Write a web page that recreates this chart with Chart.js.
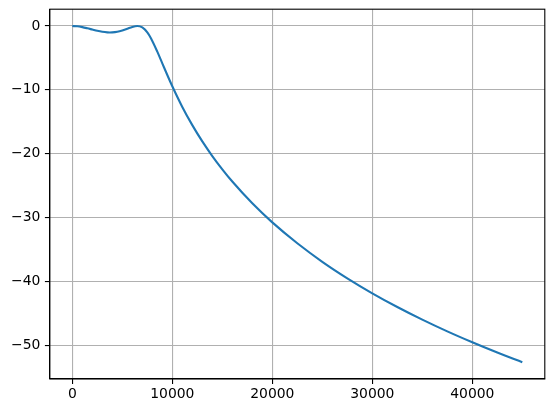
<!DOCTYPE html>
<html lang="en">
<head>
    <meta charset="UTF-8">
    <title>Response</title>
    <script src="https://cdn.jsdelivr.net/npm/chart.js@4/dist/chart.umd.min.js"></script>
    <style>
      body { margin: 0; background: #fff; }
    </style>
</head>
<body>
    <canvas id="response-chart" width="554" height="413"></canvas>
    <script>
      // frequency (x) and gain in dB (y)
      const freqs = [0, 500, 1000, 1500, 2000, 2500, 3000, 3500, 3750, 4000, 4500, 5000, 5500, 6000, 6500,
                     7000, 7500, 8000, 8500, 9000, 9500, 10000, 11000, 12000, 13000, 14000, 15000, 16000,
                     18000, 20000, 22500, 25000, 27500, 30000, 32500, 35000, 37500, 40000, 42500, 45000];
      const gains = [0, -0.04, -0.17, -0.35, -0.55, -0.75, -0.9, -0.99, -1.0, -0.99, -0.89, -0.69, -0.42, -0.14, 0,
                     -0.22, -1.0, -2.33, -4.01, -5.84, -7.67, -9.43, -12.67, -15.53, -18.08, -20.37, -22.45, -24.37,
                     -27.78, -30.77, -34.04, -36.94, -39.53, -41.88, -44.03, -46.01, -47.85, -49.56, -51.17, -52.68];
      const xTicks = [0, 10000, 20000, 30000, 40000];
      const yTicks = [0, -10, -20, -30, -40, -50];

      const points = freqs.map((f, i) => ({ x: f, y: gains[i] }));
      const font = { family: 'DejaVu Sans', size: 13.9 };

      // top and right spines, like the other two
      const frame = {
        id: 'frame',
        afterDraw(chart) {
          const a = chart.chartArea, c = chart.ctx;
          c.save();
          c.strokeStyle = '#000';
          c.lineWidth = 1.1;
          c.strokeRect(a.left, a.top, a.right - a.left, a.bottom - a.top);
          c.restore();
        }
      };

      const gridOpts = { color: '#b0b0b0', lineWidth: 1.1, tickLength: 4.9, tickColor: '#000', tickWidth: 1.1 };

      new Chart(document.getElementById('response-chart'), {
        type: 'line',
        data: {
          datasets: [{
            data: points,
            borderColor: '#1f77b4',
            borderWidth: 2.1,
            pointRadius: 0,
            cubicInterpolationMode: 'monotone',
            fill: false
          }]
        },
        options: {
          responsive: false,
          animation: false,
          layout: { padding: { left: 0, top: 9.2, right: 9.2, bottom: 0 } },
          plugins: { legend: { display: false }, tooltip: { enabled: false } },
          scales: {
            x: {
              type: 'linear',
              min: -2250,
              max: 47250,
              afterBuildTicks: s => { s.ticks = xTicks.map(v => ({ value: v })); },
              afterFit: s => { s.height = 34; s.paddingLeft = 0; s.paddingRight = 0; },
              grid: gridOpts,
              border: { color: '#000', width: 1.1 },
              ticks: { color: '#000', font: font, padding: 2.5, maxRotation: 0, callback: v => String(v) }
            },
            y: {
              type: 'linear',
              min: -55.31,
              max: 2.64,
              afterBuildTicks: s => { s.ticks = yTicks.map(v => ({ value: v })); },
              afterFit: s => { s.width = 49.8; s.paddingTop = 0; s.paddingBottom = 0; },
              grid: gridOpts,
              border: { color: '#000', width: 1.1 },
              ticks: { color: '#000', font: font, padding: 4.5, callback: v => String(v).replace('-', '\u2212') }
            }
          }
        },
        plugins: [frame]
      });
    </script>
</body>
</html>
